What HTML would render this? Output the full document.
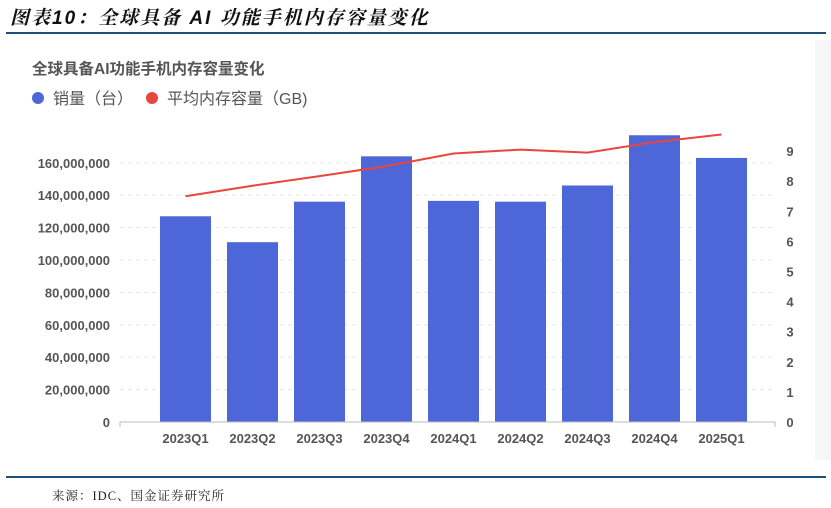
<!DOCTYPE html>
<html><head><meta charset="utf-8"><style>
body{margin:0;width:831px;height:508px;background:#fff;position:relative;overflow:hidden;font-family:"Liberation Sans","Noto Sans CJK SC",sans-serif}
.t{position:absolute}
</style></head><body>
<div class="t" style="left:10px;top:3px;font-size:19px;font-style:italic;font-weight:bold;color:#111;font-family:'Liberation Sans','Noto Serif CJK SC',serif;letter-spacing:2px">图表10：全球具备 AI 功能手机内存容量变化</div>
<div class="t" style="left:6px;top:32px;width:820px;height:2px;background:#1f4e79"></div>
<div class="t" style="left:815px;top:40px;width:16px;height:420px;background:#f6f6f8"></div>
<div class="t" style="left:6px;top:476px;width:820px;height:2px;background:#1f4e79"></div>
<div class="t" style="left:52px;top:486px;font-size:12.5px;color:#222;font-family:'Liberation Serif','Noto Serif CJK SC',serif;letter-spacing:1px">来源：IDC、国金证券研究所</div>
<svg id="c" width="831" height="508" style="position:absolute;left:0;top:0"></svg>
<script>
const categories=["2023Q1","2023Q2","2023Q3","2023Q4","2024Q1","2024Q2","2024Q3","2024Q4","2025Q1"];
const sales=[127000000,111000000,136000000,164000000,136500000,136000000,146000000,177000000,163000000];
const memory=[7.5,7.85,8.17,8.5,8.92,9.05,8.95,9.3,9.55];
const leftTicks=[0,20000000,40000000,60000000,80000000,100000000,120000000,140000000,160000000];
const rightTicks=[0,1,2,3,4,5,6,7,8,9];
const NS="http://www.w3.org/2000/svg";
const svg=document.getElementById('c');
const y0=422;
const yL=v=>y0-v/20000000*32.4;
const yR=v=>y0-v*30.1;
const xC=i=>185.5+i*67;
function mk(t,a,txt){const e=document.createElementNS(NS,t);for(const k in a)e.setAttribute(k,a[k]);if(txt!=null)e.textContent=txt;svg.appendChild(e);return e;}
let e;
e=mk('text',{x:32,y:74,'font-size':15.5,'font-weight':'bold',fill:'#555'},'全球具备AI功能手机内存容量变化');


e=mk('circle',{cx:38,cy:98,r:6,fill:'#4e67d8'});


e=mk('text',{x:53,y:104,'font-size':16,fill:'#555'},'销量（台）');


e=mk('circle',{cx:152,cy:98,r:6,fill:'#e8463f'});


e=mk('text',{x:167,y:104,'font-size':16,fill:'#555'},'平均内存容量（GB)');


leftTicks.forEach(v=>{
 if(v>0){e=mk('line',{x1:120,x2:775,y1:yL(v),y2:yL(v),stroke:'#e6e6e6','stroke-dasharray':'4,4'});
 
 }
 e=mk('text',{x:110,y:yL(v)+5,'font-size':13,'font-weight':'bold',fill:'#555','text-anchor':'end'},v.toLocaleString('en-US'));
 
 
});
rightTicks.forEach(v=>{
 e=mk('text',{x:790,y:yR(v)+5,'font-size':13,'font-weight':'bold',fill:'#555','text-anchor':'middle'},String(v));
 
 
});
sales.forEach((v,i)=>{
 e=mk('rect',{x:xC(i)-25.5,y:yL(v),width:51,height:y0-yL(v),fill:'#4e67d8'});
 
 
 e=mk('text',{x:xC(i),y:443,'font-size':13,'font-weight':'bold',fill:'#555','text-anchor':'middle'},categories[i]);
 
 
});
e=mk('path',{d:'M120 427V422H775V427',fill:'none',stroke:'#bbb'});


e=mk('polyline',{points:memory.map((v,i)=>xC(i)+','+yR(v)).join(' '),fill:'none',stroke:'#e8463f','stroke-width':2});


</script>
</body></html>
